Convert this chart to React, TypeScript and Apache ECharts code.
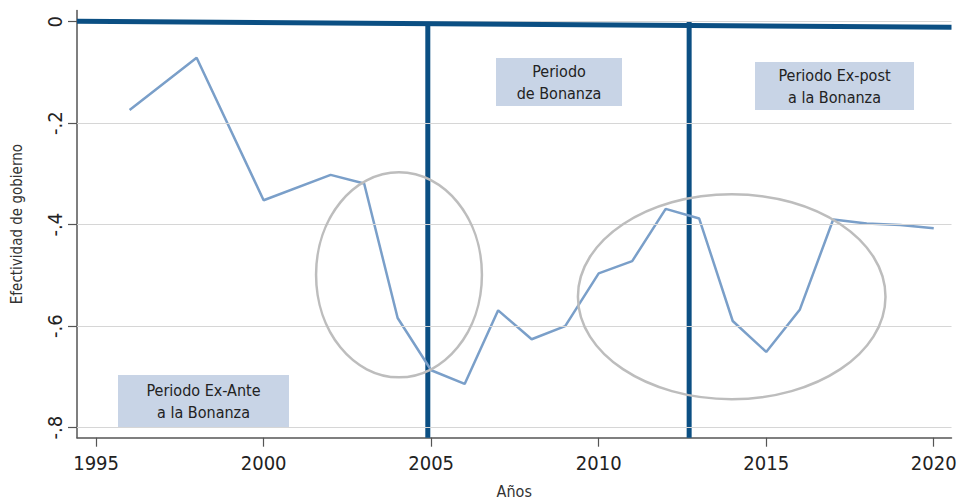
import React, { useEffect, useRef } from "react";
import * as echarts from "echarts";

const years = [1996, 1998, 2000, 2002, 2003, 2004, 2005, 2006, 2007, 2008, 2009, 2010, 2011, 2012, 2013, 2014, 2015, 2016, 2017, 2018, 2019, 2020];
const effectiveness = [-0.174, -0.071, -0.352, -0.302, -0.319, -0.584, -0.687, -0.714, -0.569, -0.626, -0.6, -0.496, -0.472, -0.369, -0.388, -0.59, -0.651, -0.568, -0.39, -0.398, -0.401, -0.407];
const refLine: [number, number][] = [[1994.43, 0.001], [2020.53, -0.011]];
const periodBreaks = [2004.9, 2012.7];
const xTicks = [1995, 2000, 2005, 2010, 2015, 2020];
const yTicks = [0, -0.2, -0.4, -0.6, -0.8];
const yTickLabels = ["0", "-.2", "-.4", "-.6", "-.8"];
// ellipses: [centerYear, centerValue, radiusYears, radiusValue]
const ellipses = [
  [2004.04, -0.499, 2.475, 0.202],
  [2013.97, -0.542, 4.59, 0.202],
];

const FONT = "'Liberation Sans Narrow', 'Arial Narrow', 'DejaVu Sans Condensed', 'Liberation Sans', sans-serif";
const X_MIN = 1994.43;
const X_MAX = 2020.53;
const Y_MIN = -0.82;
const Y_MAX = 0.022;

export default function App() {
  const ref = useRef<HTMLDivElement>(null);
  useEffect(() => {
    if (!ref.current) return;
    const chart = echarts.init(ref.current, null, { renderer: "svg" });
    const option: any = {
      animation: false,
      backgroundColor: "#ffffff",
      grid: { left: 77, right: 5.5, top: 10.5, bottom: 65.3, containLabel: false, outerBoundsMode: "none" },
      xAxis: {
        type: "value",
        min: X_MIN,
        max: X_MAX,
        name: "Años",
        nameLocation: "middle",
        nameGap: 46,
        nameTextStyle: { fontFamily: FONT, fontSize: 16, color: "#333" },
        axisLine: { show: true, onZero: false, lineStyle: { color: "#555", width: 1.5 } },
        axisTick: { show: true, length: 9, customValues: xTicks, lineStyle: { color: "#555", width: 1.2 } },
        axisLabel: { customValues: xTicks, fontFamily: FONT, fontSize: 20, color: "#222", margin: 15, formatter: (v: number) => String(Math.round(v)) },
        splitLine: { show: false },
      },
      yAxis: {
        type: "value",
        min: Y_MIN,
        max: Y_MAX,
        name: "Efectividad de gobierno",
        nameLocation: "middle",
        nameGap: 53,
        nameRotate: 90,
        nameTextStyle: { fontFamily: FONT, fontSize: 15, color: "#333" },
        axisLine: { show: true, onZero: false, lineStyle: { color: "#555", width: 1.5 } },
        axisTick: { show: true, length: 9, customValues: yTicks, lineStyle: { color: "#555", width: 1.2 } },
        axisLabel: {
          customValues: yTicks,
          rotate: 90,
          fontFamily: FONT,
          fontSize: 20,
          color: "#222",
          margin: 12,
          formatter: (v: number) => {
            const i = yTicks.findIndex((t) => Math.abs(t - v) < 1e-6);
            return i >= 0 ? yTickLabels[i] : "";
          },
        },
        splitLine: { show: false },
      },
      series: [
        {
          type: "line",
          data: [],
          silent: true,
          z: 0,
          markLine: {
            silent: true,
            symbol: "none",
            label: { show: false },
            lineStyle: { color: "#d6d6d6", width: 1.2, type: "solid" },
            data: yTicks.map((v) => ({ yAxis: v })),
          },
        },
        ...periodBreaks.map((b) => ({
          type: "line",
          data: [[b, 0], [b, Y_MIN]],
          symbol: "none",
          silent: true,
          z: 3,
          lineStyle: { color: "#0b4f83", width: 5 },
        })),
        {
          type: "line",
          data: years.map((y, i) => [y, effectiveness[i]]),
          symbol: "none",
          z: 4,
          lineStyle: { color: "#7a9fc9", width: 2.5 },
        },
        {
          type: "line",
          data: refLine,
          symbol: "none",
          silent: true,
          z: 5,
          lineStyle: { color: "#0b4f83", width: 5 },
        },
      ],
    };
    chart.setOption(option);

    const ellipseGraphics = ellipses.map((e) => {
      const c = chart.convertToPixel({ gridIndex: 0 }, [e[0], e[1]]) as number[];
      const r = chart.convertToPixel({ gridIndex: 0 }, [e[0] + e[2], e[1] + e[3]]) as number[];
      return {
        type: "ellipse",
        z: 10,
        silent: true,
        shape: { cx: c[0], cy: c[1], rx: Math.abs(r[0] - c[0]), ry: Math.abs(r[1] - c[1]) },
        style: { fill: "none", stroke: "#bdbdbd", lineWidth: 2.5 },
      };
    });

    const box = (x: number, y: number, w: number, h: number, text: string) => ({
      type: "group",
      z: 20,
      children: [
        { type: "rect", shape: { x, y, width: w, height: h }, style: { fill: "#c8d4e6" } },
        {
          type: "text",
          x: x + w / 2,
          y: y + h / 2,
          style: {
            text,
            fill: "#222",
            font: `16px ${FONT}`,
            align: "center",
            verticalAlign: "middle",
            lineHeight: 22,
          },
        },
      ],
    });

    chart.setOption({
      graphic: [
        ...ellipseGraphics,
        box(496, 58, 126, 48, "Periodo\nde Bonanza"),
        box(755, 62, 159, 48, "Periodo Ex-post\na la Bonanza"),
        box(118, 375, 171, 52, "Periodo Ex-Ante\na la Bonanza"),
      ],
    });

    return () => chart.dispose();
  }, []);
  return <div ref={ref} style={{ width: 957, height: 503, position: "absolute", left: 0, top: 0 }} />;
}
